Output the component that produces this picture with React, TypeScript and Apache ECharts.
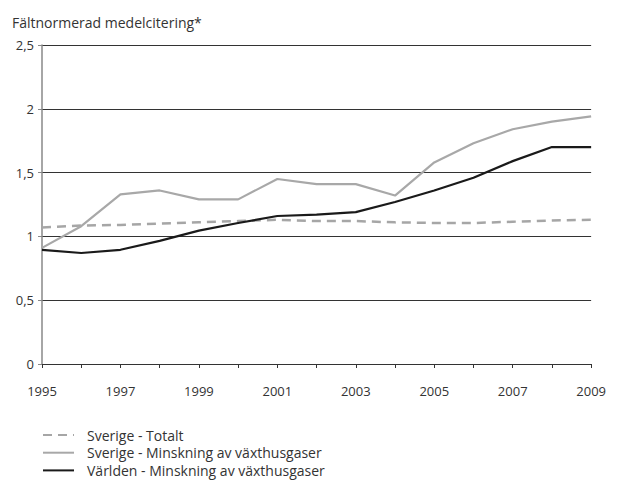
import React, { useEffect, useRef } from "react";
import * as echarts from "echarts";

const years = ["1995","1996","1997","1998","1999","2000","2001","2002","2003","2004","2005","2006","2007","2008","2009"];
const sverigeTotalt = [1.07,1.085,1.09,1.10,1.11,1.12,1.13,1.12,1.12,1.11,1.105,1.105,1.115,1.125,1.13];
const sverigeMinskning = [0.91,1.08,1.33,1.36,1.29,1.29,1.45,1.41,1.41,1.32,1.58,1.73,1.84,1.90,1.94];
const varldenMinskning = [0.895,0.87,0.895,0.965,1.045,1.105,1.16,1.17,1.19,1.27,1.36,1.46,1.59,1.70,1.70];
const seriesNames = ["Sverige - Totalt","Sverige - Minskning av växthusgaser","Världen - Minskning av växthusgaser"];
const yTitle = "Fältnormerad medelcitering*";

const FONT = "'Open Sans', Lato, sans-serif";

export default function App() {
  const ref = useRef<HTMLDivElement>(null);
  useEffect(() => {
    if (!ref.current) return;
    const chart = echarts.init(ref.current, null, { renderer: "svg" });
    chart.setOption({
      animation: false,
      backgroundColor: "#ffffff",
      textStyle: { fontFamily: FONT },
      title: {
        text: yTitle,
        left: -1,
        top: 2,
        textStyle: { fontFamily: FONT, fontSize: 14, fontWeight: "normal", color: "#333" },
      },
      grid: { left: 34, right: 7, top: 37, bottom: 120, containLabel: false },
      legend: {
        orient: "vertical",
        left: 34,
        top: 420,
        height: 70,
        padding: 0,
        itemWidth: 31,
        itemHeight: 14,
        itemGap: 3.7,
        itemStyle: { opacity: 0 },
        textStyle: { fontFamily: FONT, fontSize: 14, color: "#333", padding: [0, 0, 0, 8] },
        data: seriesNames,
      },
      xAxis: {
        type: "category",
        data: years,
        boundaryGap: false,
        axisLine: { lineStyle: { color: "#333", width: 1 } },
        axisTick: { show: true, interval: 0, length: 4, lineStyle: { color: "#333" } },
        axisLabel: { interval: 1, margin: 20, fontFamily: FONT, fontSize: 13, color: "#333" },
        splitLine: { show: false },
      },
      yAxis: {
        type: "value",
        min: 0,
        max: 2.5,
        interval: 0.5,
        axisLine: { show: true, lineStyle: { color: "#888", width: 1.5 } },
        axisTick: { show: true, length: 4, lineStyle: { color: "#888" } },
        axisLabel: {
          margin: 8,
          fontFamily: FONT,
          fontSize: 13,
          color: "#333",
          formatter: (v: number) => String(v).replace(/\./g, ","),
        },
        splitLine: { show: true, lineStyle: { color: "#333", width: 1 } },
      },
      series: [
        {
          name: seriesNames[0],
          type: "line",
          data: sverigeTotalt,
          symbol: "none",
          lineStyle: { color: "#a6a6a6", width: 2.5, type: [9, 6] },
          itemStyle: { color: "#a6a6a6" },
        },
        {
          name: seriesNames[1],
          type: "line",
          data: sverigeMinskning,
          symbol: "none",
          lineStyle: { color: "#a8a8a8", width: 2.2 },
          itemStyle: { color: "#a8a8a8" },
        },
        {
          name: seriesNames[2],
          type: "line",
          data: varldenMinskning,
          symbol: "none",
          lineStyle: { color: "#1a1a1a", width: 2.2 },
          itemStyle: { color: "#1a1a1a" },
        },
      ],
    });
    return () => chart.dispose();
  }, []);
  return <div ref={ref} style={{ width: 601, height: 476 }} />;
}
